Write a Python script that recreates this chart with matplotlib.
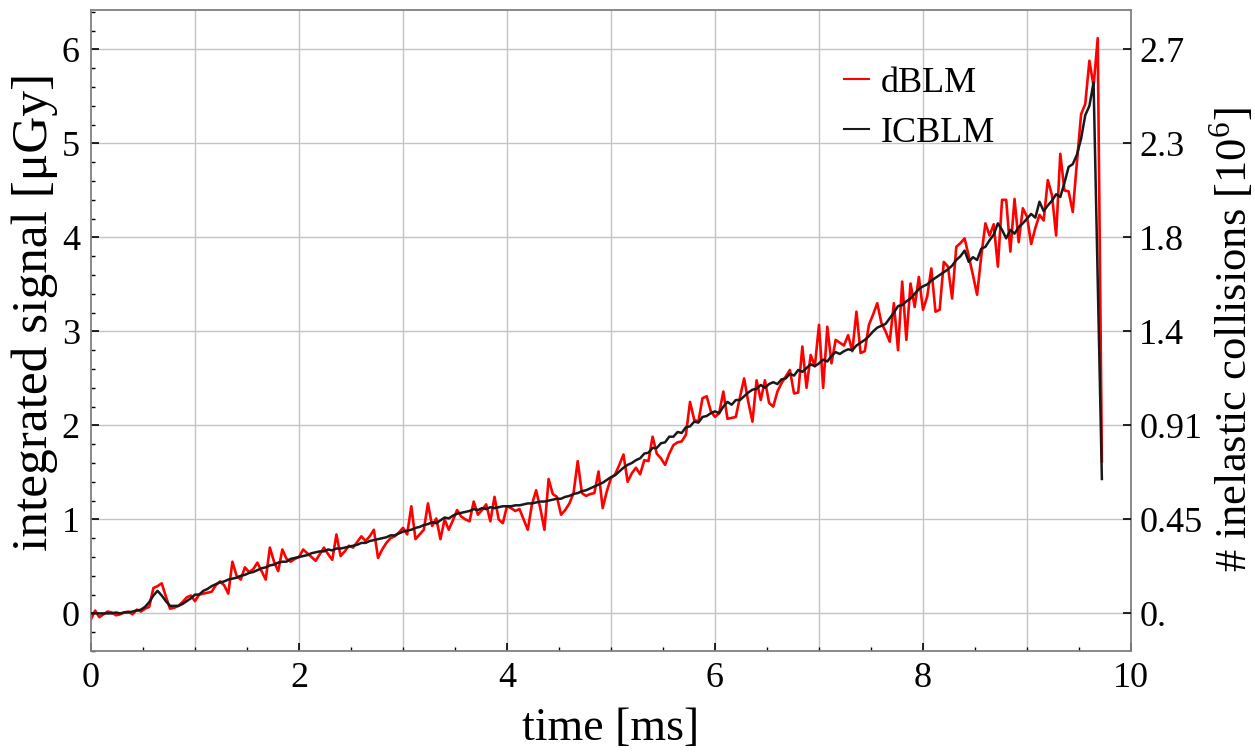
import numpy as np
import matplotlib
matplotlib.use("Agg")
import matplotlib.pyplot as plt
from matplotlib.ticker import MultipleLocator, FixedLocator, FixedFormatter

plt.rcParams["font.family"] = ["Liberation Serif", "DejaVu Serif"]
plt.rcParams["mathtext.fontset"] = "custom"
plt.rcParams["mathtext.rm"] = "Liberation Serif"

# === data (sampled every 0.04 ms) ===
dt = 0.04

icblm = [
    0.00, 0.00, 0.00, 0.00, 0.00, 0.00, 0.01, 0.00, 0.01, 0.01,
    0.02, 0.03, 0.04, 0.07, 0.12, 0.19, 0.24, 0.19, 0.13, 0.08,
    0.08, 0.08, 0.10, 0.13, 0.16, 0.20, 0.20, 0.24, 0.26, 0.29,
    0.31, 0.33, 0.34, 0.36, 0.37, 0.38, 0.40, 0.41, 0.43, 0.44,
    0.46, 0.48, 0.49, 0.51, 0.52, 0.54, 0.55, 0.55, 0.58, 0.59,
    0.60, 0.61, 0.62, 0.64, 0.65, 0.66, 0.66, 0.68, 0.67, 0.69,
    0.69, 0.70, 0.71, 0.72, 0.73, 0.75, 0.75, 0.77, 0.78, 0.79,
    0.80, 0.81, 0.83, 0.83, 0.85, 0.87, 0.88, 0.89, 0.91, 0.92,
    0.94, 0.95, 0.97, 0.96, 0.99, 1.02, 1.01, 1.04, 1.06, 1.07,
    1.08, 1.09, 1.11, 1.10, 1.12, 1.11, 1.13, 1.12, 1.13, 1.14,
    1.14, 1.14, 1.15, 1.15, 1.16, 1.17, 1.17, 1.18, 1.19, 1.19,
    1.20, 1.21, 1.22, 1.22, 1.24, 1.25, 1.27, 1.28, 1.30, 1.31,
    1.33, 1.35, 1.37, 1.39, 1.42, 1.45, 1.47, 1.51, 1.55, 1.58,
    1.60, 1.63, 1.65, 1.70, 1.71, 1.76, 1.76, 1.81, 1.82, 1.88,
    1.88, 1.93, 1.92, 1.98, 1.99, 2.04, 2.03, 2.09, 2.10, 2.13,
    2.15, 2.13, 2.20, 2.25, 2.22, 2.27, 2.27, 2.31, 2.35, 2.38,
    2.39, 2.43, 2.40, 2.44, 2.46, 2.44, 2.49, 2.50, 2.55, 2.53,
    2.59, 2.57, 2.61, 2.65, 2.63, 2.66, 2.70, 2.68, 2.74, 2.78,
    2.76, 2.79, 2.81, 2.80, 2.85, 2.88, 2.91, 2.95, 3.00, 3.04,
    3.06, 3.08, 3.14, 3.20, 3.27, 3.28, 3.32, 3.35, 3.40, 3.45,
    3.48, 3.50, 3.54, 3.57, 3.60, 3.63, 3.66, 3.70, 3.76, 3.80,
    3.86, 3.74, 3.79, 3.76, 3.88, 3.90, 3.97, 4.03, 4.15, 4.08,
    3.99, 4.08, 4.04, 4.11, 4.15, 4.20, 4.25, 4.21, 4.38, 4.28,
    4.34, 4.39, 4.46, 4.43, 4.58, 4.75, 4.78, 4.88, 5.05, 5.30,
    5.40, 5.65, 3.55, 1.43,
]

dblm = [
    -0.06, 0.03, -0.04, -0.01, 0.02, 0.01, -0.02, -0.01, 0.01, 0.02,
    -0.01, 0.04, 0.02, 0.05, 0.07, 0.27, 0.29, 0.32, 0.18, 0.05,
    0.06, 0.08, 0.12, 0.17, 0.19, 0.13, 0.20, 0.21, 0.22, 0.23,
    0.30, 0.34, 0.30, 0.21, 0.55, 0.40, 0.36, 0.49, 0.44, 0.47,
    0.54, 0.45, 0.36, 0.70, 0.55, 0.45, 0.68, 0.58, 0.55, 0.58,
    0.60, 0.68, 0.64, 0.60, 0.56, 0.63, 0.70, 0.63, 0.57, 0.84,
    0.61, 0.66, 0.72, 0.70, 0.76, 0.82, 0.77, 0.82, 0.89, 0.59,
    0.68, 0.75, 0.80, 0.82, 0.86, 0.91, 0.84, 1.14, 0.79, 0.84,
    0.89, 1.17, 0.93, 1.01, 0.79, 1.00, 0.89, 0.99, 1.10, 1.03,
    1.00, 0.98, 1.19, 1.05, 1.10, 1.16, 0.98, 1.24, 1.00, 0.96,
    1.14, 1.12, 1.09, 1.11, 1.00, 0.89, 1.16, 1.31, 1.12, 0.89,
    1.43, 1.27, 1.24, 1.05, 1.10, 1.17, 1.28, 1.62, 1.28, 1.25,
    1.27, 1.28, 1.51, 1.12, 1.30, 1.44, 1.48, 1.58, 1.69, 1.40,
    1.49, 1.55, 1.48, 1.63, 1.62, 1.88, 1.70, 1.65, 1.58, 1.70,
    1.79, 1.82, 1.83, 1.90, 2.25, 2.06, 2.04, 2.29, 2.31, 2.15,
    2.09, 2.13, 2.36, 2.07, 2.08, 2.09, 2.30, 2.50, 2.25, 2.04,
    2.48, 2.27, 2.48, 2.24, 2.20, 2.36, 2.45, 2.52, 2.59, 2.34,
    2.35, 2.84, 2.40, 2.75, 2.63, 3.07, 2.40, 3.05, 2.66, 2.91,
    2.88, 2.85, 2.96, 2.79, 3.21, 2.77, 2.79, 3.07, 3.18, 3.30,
    3.09, 3.00, 2.89, 3.30, 2.80, 3.53, 2.91, 3.51, 3.26, 3.58,
    3.23, 3.37, 3.67, 3.21, 3.23, 3.74, 3.69, 3.35, 3.90, 3.94,
    3.99, 3.80, 3.60, 3.39, 3.80, 4.15, 4.02, 4.14, 3.69, 4.40,
    4.40, 3.85, 4.41, 3.95, 4.31, 4.22, 3.93, 4.10, 4.24, 4.18,
    4.61, 4.45, 4.02, 4.89, 4.50, 4.49, 4.27, 4.80, 5.31, 5.42,
    5.88, 5.61, 6.12, 1.62,
]

time_ms = np.arange(len(icblm)) * dt

right_ticks = [0, 1, 2, 3, 4, 5, 6]
right_labels = ["0.", "0.45", "0.91", "1.4", "1.8", "2.3", "2.7"]

# === figure ===
fig = plt.figure(figsize=(12.55, 7.56), dpi=100)
ax = fig.add_axes([0.0725, 0.1389, 0.8287, 0.8479])

for v in range(1, 10):
    ax.axvline(v, color="#c4c4c4", lw=1.0, zorder=0)
for v in range(0, 7):
    ax.axhline(v, color="#c4c4c4", lw=1.0, zorder=0)

ax.plot(time_ms, dblm, color="#ff0000", lw=1.9, label="dBLM", zorder=2)
ax.plot(time_ms, icblm, color="#1a1a1a", lw=1.8, label="ICBLM", zorder=3)

ax.set_xlim(0, 10)
ax.set_ylim(-0.4, 6.42)
ax.xaxis.set_major_locator(MultipleLocator(2))
ax.xaxis.set_minor_locator(MultipleLocator(0.5))
ax.yaxis.set_major_locator(MultipleLocator(1))
ax.yaxis.set_minor_locator(MultipleLocator(0.2))
ax.tick_params(which="both", direction="in", top=False, right=False,
               labelsize=26, color="black")
ax.tick_params(which="major", length=6, width=1.2, pad=8)
ax.tick_params(which="minor", length=3, width=1.0)

for s in ax.spines.values():
    s.set_color("#808080")
    s.set_linewidth(1.3)

ax.set_xlabel("time [ms]", fontsize=33, labelpad=9)
ax.set_ylabel("integrated signal [μGy]", fontsize=37)
ax.yaxis.set_label_coords(-0.032, 0.529)

ax2 = ax.twinx()
ax2.set_ylim(ax.get_ylim())
ax2.yaxis.set_major_locator(FixedLocator(right_ticks))
ax2.yaxis.set_major_formatter(FixedFormatter(right_labels))
ax2.tick_params(which="major", direction="in", length=6, width=1.2,
                labelsize=26, pad=6)
for s in ax2.spines.values():
    s.set_visible(False)
ax2.set_ylabel("# inelastic collisions [10$^6$]", fontsize=32)
ax2.yaxis.set_label_coords(1.074, 0.485)

leg = ax.legend(loc="upper right", bbox_to_anchor=(0.9, 0.962), frameon=False,
                fontsize=26, handlelength=0.7, handletextpad=0.3,
                labelspacing=0.45)
for h in leg.get_lines():
    h.set_linewidth(1.5)

fig.savefig("out.png", dpi=100)
